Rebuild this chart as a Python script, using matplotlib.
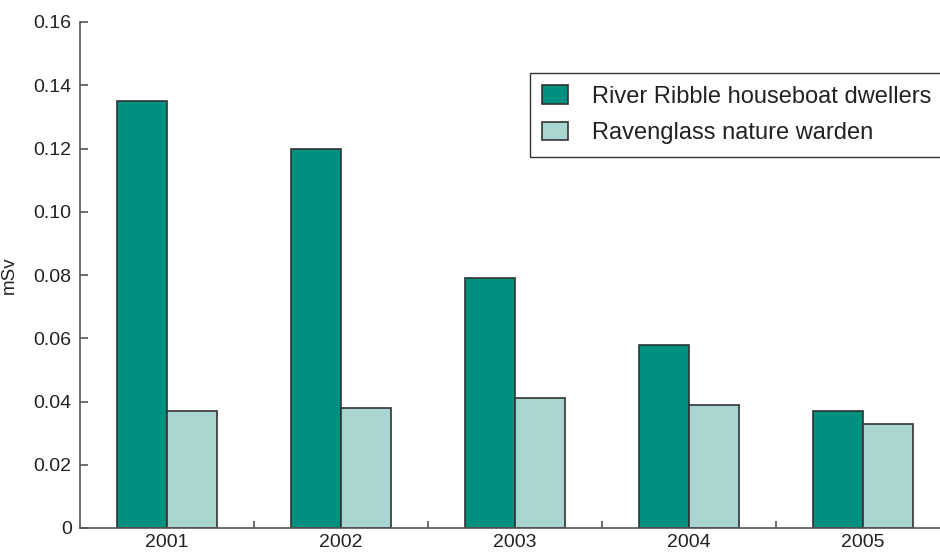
import numpy as np
import matplotlib.pyplot as plt

plt.rcParams['font.family'] = ['Liberation Sans', 'DejaVu Sans']

YEARS = ["2001", "2002", "2003", "2004", "2005"]
RIBBLE = [0.135, 0.120, 0.079, 0.058, 0.037]
RAVENGLASS = [0.037, 0.038, 0.041, 0.039, 0.033]
SERIES_NAMES = ["River Ribble houseboat dwellers", "Ravenglass nature warden"]

DARK = "#009080"
LIGHT = "#a9d5d0"
EDGE = "#333333"
SPINE = "#555555"

fig = plt.figure(figsize=(9.4, 5.52), dpi=100)
ax = fig.add_axes([80 / 940, 24 / 552, 860 / 940, 506 / 552])

x = np.arange(len(YEARS))
w = 0.287
ax.bar(x - w / 2, RIBBLE, w, color=DARK, edgecolor=EDGE, linewidth=1.2,
       label=SERIES_NAMES[0])
ax.bar(x + w / 2, RAVENGLASS, w, color=LIGHT, edgecolor=EDGE, linewidth=1.2,
       label=SERIES_NAMES[1])

ax.set_xlim(-0.5, -0.5 + 860 / 174)
ax.set_ylim(0, 0.16)
yt = np.arange(0, 0.161, 0.02)
ax.set_yticks(yt)
ax.set_yticklabels(["0"] + [f"{v:.2f}" for v in yt[1:]])
ax.set_xticks(x)
ax.set_xticklabels(YEARS)
ax.set_xticks(x[:-1] + 0.5, minor=True)

for s in ("top", "right"):
    ax.spines[s].set_visible(False)
for s in ("left", "bottom"):
    ax.spines[s].set_color(SPINE)
    ax.spines[s].set_linewidth(1.2)

ax.tick_params(axis="y", direction="in", length=6, width=1.2, color=SPINE,
               labelsize=14, labelcolor="#222222", pad=6)
ax.tick_params(axis="x", which="major", length=0, labelsize=14,
               labelcolor="#222222", pad=4)
ax.tick_params(axis="x", which="minor", direction="in", length=5, width=1.2,
               color=SPINE)

ax.set_ylabel("mSv", fontsize=13.5, color="#222222")
ax.yaxis.set_label_coords(-62 / 860, 0.5)

leg = ax.legend(loc="upper left", bbox_to_anchor=(530 / 940, 1 - 73 / 552),
                bbox_transform=fig.transFigure, fontsize=17, frameon=True,
                fancybox=False, edgecolor="#333333", framealpha=1,
                handlelength=1.1, handleheight=0.83, handletextpad=1.0,
                borderpad=0.52, labelspacing=0.6, borderaxespad=0)
leg.get_frame().set_linewidth(1.0)
for t in leg.get_texts():
    t.set_color("#222222")

fig.savefig("out.png", dpi=100)
